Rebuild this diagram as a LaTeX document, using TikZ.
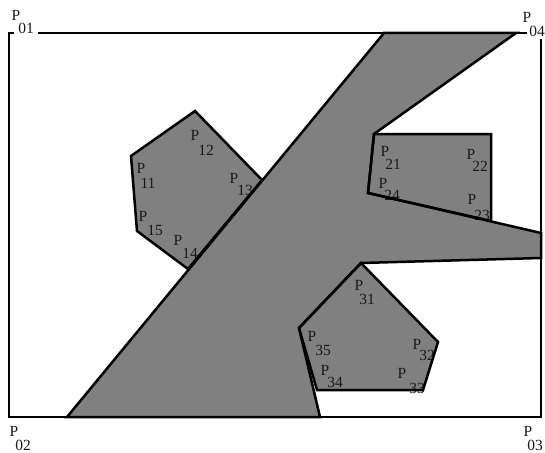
\documentclass[tikz,border=0pt]{standalone}
\usepackage{fontspec}
\setmainfont{Liberation Serif}
\definecolor{fillgray}{RGB}{128,128,128}
\begin{document}
\begin{tikzpicture}[x=1pt,y=-1pt,
  lab/.style={font=\fontsize{15.5}{15.5}\selectfont, inner sep=0pt, text=black!90},
  corner/.style={lab, fill=white, inner xsep=4pt, inner ysep=3pt},
  edge/.style={line width=2.5pt, line join=miter},
  frame/.style={line width=2.2pt}]
\useasboundingbox (0,0) rectangle (545,452);
% frame corners
\coordinate (F1) at (9,33);
\coordinate (F2) at (9,417);
\coordinate (F3) at (541,417);
\coordinate (F4) at (541,33);
% big shape
\coordinate (a1) at (67,417);
\coordinate (a2) at (384,33);
\coordinate (a3) at (516,33);
\coordinate (a4) at (374,134);
\coordinate (a5) at (368,193);
\coordinate (a6) at (541,233);
\coordinate (a7) at (541,258);
\coordinate (a8) at (361,263);
\coordinate (a9) at (299,328);
\coordinate (a10) at (320,417);
% polygon 1
\coordinate (q11) at (131,156);
\coordinate (q12) at (195,111);
\coordinate (q13) at (262,180);
\coordinate (q14) at (188,269);
\coordinate (q15) at (137,231);
% polygon 2
\coordinate (q21) at (374,134);
\coordinate (q22) at (491,134);
\coordinate (q23) at (491,221);
\coordinate (q24) at (368,193);
% polygon 3
\coordinate (q31) at (361,263);
\coordinate (q32) at (438,342);
\coordinate (q33) at (423,390);
\coordinate (q34) at (317,390);
\coordinate (q35) at (299,328);
% fills
\fill[fillgray] (a1) -- (a2) -- (a3) -- (a4) -- (a5) -- (a6) -- (a7) -- (a8) -- (a9) -- (a10) -- cycle;
\fill[fillgray] (q11) -- (q12) -- (q13) -- (q14) -- (q15) -- cycle;
\fill[fillgray] (q21) -- (q22) -- (q23) -- (q24) -- cycle;
\fill[fillgray] (q31) -- (q32) -- (q33) -- (q34) -- (q35) -- cycle;
% inner labels
\node[lab] (l11) at (141,168) {P}; \node[lab] (n11) at (148,183) {11};
\node[lab] (l12) at (195,135) {P}; \node[lab] (n12) at (206,150) {12};
\node[lab] (l13) at (234,178) {P}; \node[lab] (n13) at (245,190) {13};
\node[lab] (l14) at (178,240) {P}; \node[lab] (n14) at (190,253) {14};
\node[lab] (l15) at (143,216) {P}; \node[lab] (n15) at (155,230) {15};
\node[lab] (l21) at (385,151) {P}; \node[lab] (n21) at (393,164) {21};
\node[lab] (l22) at (471,154) {P}; \node[lab] (n22) at (480,166) {22};
\node[lab] (l23) at (472,199) {P}; \node[lab] (n23) at (482,215) {23};
\node[lab] (l24) at (383,183) {P}; \node[lab] (n24) at (392,195) {24};
\node[lab] (l31) at (359,285) {P}; \node[lab] (n31) at (367,299) {31};
\node[lab] (l32) at (417,344) {P}; \node[lab] (n32) at (427,355) {32};
\node[lab] (l33) at (402,373) {P}; \node[lab] (n33) at (417,388) {33};
\node[lab] (l34) at (325,370) {P}; \node[lab] (n34) at (335,382) {34};
\node[lab] (l35) at (312,336) {P}; \node[lab] (n35) at (323,350) {35};
% outlines
\draw[edge] (a1) -- (a2) -- (a3) -- (a4) -- (a5) -- (a6) -- (a7) -- (a8) -- (a9) -- (a10) -- cycle;
\draw[edge] (q11) -- (q12) -- (q13) -- (q14) -- (q15) -- cycle;
\draw[edge] (q21) -- (q22) -- (q23) -- (q24) -- cycle;
\draw[edge] (q31) -- (q32) -- (q33) -- (q34) -- (q35) -- cycle;
% frame
\draw[frame] (F1) -- (F2) -- (F3) -- (F4) -- cycle;
% corner labels
\node[lab] (l01) at (16,15) {P}; \node[corner] (n01) at (26,28) {01};
\node[lab] (l02) at (14,431) {P}; \node[lab] (n02) at (23,445) {02};
\node[lab] (l03) at (528,431) {P}; \node[lab] (n03) at (535,445) {03};
\node[lab] (l04) at (527,17) {P}; \node[corner, inner xsep=2pt] (n04) at (537,31) {04};
\end{tikzpicture}
\end{document}
